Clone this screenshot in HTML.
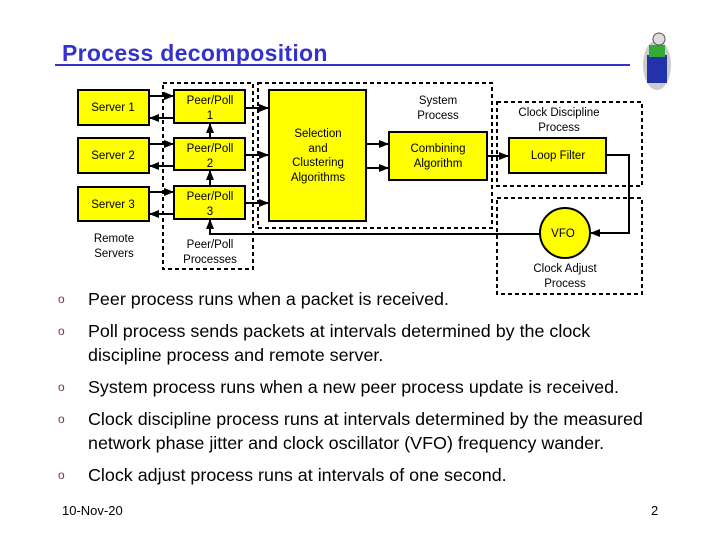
<!DOCTYPE html>
<html><head><meta charset="utf-8"><style>
body{margin:0;width:720px;height:540px;background:#fff;position:relative;overflow:hidden;font-family:"Liberation Sans",Arial,sans-serif}
.t{position:absolute;left:62px;top:40px;font-size:23px;color:#3333cc;font-weight:bold;letter-spacing:0.3px}
.b{position:absolute;left:88px;font-size:17.9px;color:#000;line-height:24px;white-space:nowrap}
.o{position:absolute;left:58px;font-size:12px;color:#663366}
</style></head><body>
<div class="t">Process decomposition</div>
<div style="position:absolute;left:55px;top:64px;width:575px;height:2px;background:#3333cc"></div>
<svg width="720" height="540" style="position:absolute;left:0;top:0" font-family="Liberation Sans, Arial, sans-serif" font-size="11.5">
<defs><marker id="a" markerUnits="userSpaceOnUse" markerWidth="10" markerHeight="10" refX="9" refY="5" orient="auto"><path d="M0,1 L10,5 L0,9z" fill="#000"/></marker></defs>
<g fill="none" stroke="#000" stroke-width="2" stroke-dasharray="4,3">
<rect x="163" y="83" width="90" height="186"/>
<rect x="258" y="83" width="234" height="145"/>
<rect x="497" y="102" width="145" height="84"/>
<rect x="497" y="198" width="145" height="96"/>
</g>
<g fill="#ffff00" stroke="#000" stroke-width="2">
<rect x="78" y="90" width="71" height="35"/>
<rect x="78" y="138" width="71" height="35"/>
<rect x="78" y="187" width="71" height="34"/>
<rect x="174" y="90" width="71" height="33"/>
<rect x="174" y="138" width="71" height="32"/>
<rect x="174" y="186" width="71" height="33"/>
<rect x="269" y="90" width="97" height="131"/>
<rect x="389" y="132" width="98" height="48"/>
<rect x="509" y="138" width="97" height="35"/>
<circle cx="565" cy="233" r="25"/>
</g>
<g stroke="#000" stroke-width="2" fill="none" marker-end="url(#a)">
<line x1="149" y1="96" x2="173" y2="96"/><line x1="174" y1="118" x2="150" y2="118"/>
<line x1="149" y1="144" x2="173" y2="144"/><line x1="174" y1="166" x2="150" y2="166"/>
<line x1="149" y1="192" x2="173" y2="192"/><line x1="174" y1="214" x2="150" y2="214"/>
<line x1="245" y1="108" x2="268" y2="108"/><line x1="245" y1="155" x2="268" y2="155"/><line x1="245" y1="203" x2="268" y2="203"/>
<line x1="210" y1="186" x2="210" y2="171"/><line x1="210" y1="138" x2="210" y2="124"/>
<line x1="366" y1="144" x2="388" y2="144"/><line x1="366" y1="168" x2="388" y2="168"/>
<line x1="487" y1="156" x2="508" y2="156"/>
<polyline points="606,155 629,155 629,233 591,233"/>
<polyline points="540,234 210,234 210,220"/>
</g>
<g text-anchor="middle" fill="#000">
<text x="113" y="111">Server 1</text><text x="113" y="159">Server 2</text><text x="113" y="208">Server 3</text>
<text x="210" y="104">Peer/Poll</text><text x="210" y="119">1</text>
<text x="210" y="152">Peer/Poll</text><text x="210" y="167">2</text>
<text x="210" y="200">Peer/Poll</text><text x="210" y="215">3</text>
<text x="114" y="242">Remote</text><text x="114" y="257">Servers</text>
<text x="210" y="248">Peer/Poll</text><text x="210" y="263">Processes</text>
<text x="318" y="137">Selection</text><text x="318" y="152">and</text><text x="318" y="166">Clustering</text><text x="318" y="181">Algorithms</text>
<text x="438" y="104">System</text><text x="438" y="119">Process</text>
<text x="438" y="152">Combining</text><text x="438" y="167">Algorithm</text>
<text x="559" y="116">Clock Discipline</text><text x="559" y="131">Process</text>
<text x="558" y="159">Loop Filter</text>
<text x="563" y="237">VFO</text>
<text x="565" y="272">Clock Adjust</text><text x="565" y="287">Process</text>
</g>
<g transform="translate(635,25)">
<ellipse cx="22" cy="40" rx="14" ry="25" fill="#ccc"/>
<rect x="12" y="30" width="20" height="28" fill="#2233aa"/>
<rect x="14" y="20" width="16" height="12" fill="#33aa33"/>
<circle cx="24" cy="14" r="6" fill="#ddd" stroke="#555"/>
</g>
</svg>
<div class="o" style="top:292px">o</div><div class="b" style="top:287px">Peer process runs when a packet is received.</div>
<div class="o" style="top:324px">o</div><div class="b" style="top:319px">Poll process sends packets at intervals determined by the clock<br>discipline process and remote server.</div>
<div class="o" style="top:380px">o</div><div class="b" style="top:375px">System process runs when a new peer process update is received.</div>
<div class="o" style="top:412px">o</div><div class="b" style="top:407px">Clock discipline process runs at intervals determined by the measured<br>network phase jitter and clock oscillator (VFO) frequency wander.</div>
<div class="o" style="top:468px">o</div><div class="b" style="top:463px">Clock adjust process runs at intervals of one second.</div>
<div style="position:absolute;left:62px;top:503px;font-size:13px">10-Nov-20</div>
<div style="position:absolute;left:651px;top:503px;font-size:13px">2</div>
</body></html>
